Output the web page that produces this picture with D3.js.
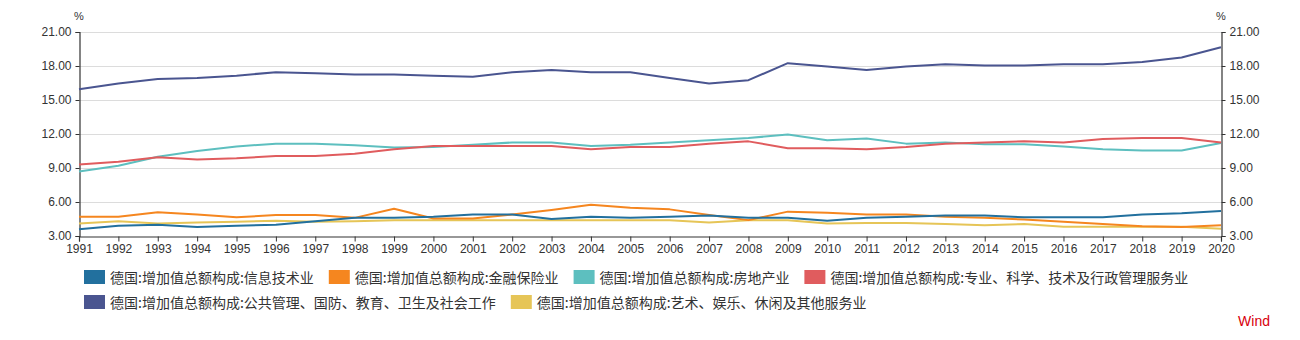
<!DOCTYPE html>
<html>
<head>
<meta charset="utf-8">
<script src="https://cdn.jsdelivr.net/npm/d3@7/dist/d3.min.js"></script>
<style>
  html, body { margin: 0; padding: 0; background: #fff; }
  svg { display: block; }
  .tick text { font-family: "Liberation Sans", Arial, sans-serif; font-size: 12px; fill: #333; }
</style>
</head>
<body>
<svg id="chart" width="1300" height="340"></svg>
<script>
// Years on the x axis
const years = [1991, 1992, 1993, 1994, 1995, 1996, 1997, 1998, 1999, 2000,
               2001, 2002, 2003, 2004, 2005, 2006, 2007, 2008, 2009, 2010,
               2011, 2012, 2013, 2014, 2015, 2016, 2017, 2018, 2019, 2020];

// Share of gross value added, %
const infoTech   = [3.6, 3.9, 4.0, 3.8, 3.9, 4.0, 4.3, 4.6, 4.6, 4.7, 4.9, 4.9, 4.5, 4.7, 4.6, 4.7, 4.8, 4.6, 4.6, 4.35, 4.6, 4.7, 4.8, 4.8, 4.65, 4.65, 4.65, 4.9, 5.0, 5.2];
const finance    = [4.7, 4.7, 5.1, 4.9, 4.65, 4.85, 4.85, 4.6, 5.4, 4.55, 4.55, 4.9, 5.3, 5.75, 5.5, 5.35, 4.85, 4.4, 5.15, 5.05, 4.9, 4.9, 4.7, 4.6, 4.45, 4.25, 4.05, 3.85, 3.8, 3.95];
const realEstate = [8.7, 9.2, 10.0, 10.5, 10.9, 11.15, 11.15, 11.0, 10.8, 10.85, 11.05, 11.25, 11.25, 10.95, 11.05, 11.25, 11.45, 11.65, 11.95, 11.45, 11.6, 11.15, 11.25, 11.1, 11.1, 10.9, 10.65, 10.55, 10.55, 11.2];
const proService = [9.3, 9.55, 9.95, 9.75, 9.85, 10.05, 10.05, 10.25, 10.65, 10.95, 10.95, 10.95, 10.95, 10.65, 10.85, 10.85, 11.15, 11.35, 10.75, 10.75, 10.65, 10.85, 11.15, 11.25, 11.35, 11.25, 11.55, 11.65, 11.65, 11.25];
const publicAdm  = [15.95, 16.45, 16.85, 16.95, 17.15, 17.45, 17.35, 17.25, 17.25, 17.15, 17.05, 17.45, 17.65, 17.45, 17.45, 16.95, 16.45, 16.75, 18.25, 17.95, 17.65, 17.95, 18.15, 18.05, 18.05, 18.15, 18.15, 18.35, 18.75, 19.65];
const artsLeisure= [4.1, 4.3, 4.1, 4.2, 4.25, 4.35, 4.25, 4.3, 4.4, 4.4, 4.4, 4.4, 4.4, 4.4, 4.4, 4.4, 4.2, 4.4, 4.4, 4.1, 4.15, 4.15, 4.05, 3.95, 4.05, 3.82, 3.82, 3.82, 3.82, 3.65];

// Y axis tick values
const yTicks = [3, 6, 9, 12, 15, 18, 21];

const seriesNames = [
  "德国:增加值总额构成:信息技术业",
  "德国:增加值总额构成:金融保险业",
  "德国:增加值总额构成:房地产业",
  "德国:增加值总额构成:专业、科学、技术及行政管理服务业",
  "德国:增加值总额构成:公共管理、国防、教育、卫生及社会工作",
  "德国:增加值总额构成:艺术、娱乐、休闲及其他服务业"
];
const seriesColors = ["#22709e", "#f5861f", "#5dbfbf", "#e05c5e", "#4a5590", "#e6c557"];
const seriesValues = [infoTech, finance, realEstate, proService, publicAdm, artsLeisure];

const svg = d3.select("#chart");
const margin = { left: 79, right: 79, top: 32, bottom: 104 };
const W = 1300, H = 340;
const plotW = W - margin.left - margin.right;
const plotH = H - margin.top - margin.bottom;

const x = d3.scaleLinear().domain([years[0], years[years.length - 1]]).range([margin.left, margin.left + plotW]);
const y = d3.scaleLinear().domain([3, 21]).range([margin.top + plotH, margin.top]);

// Horizontal gridlines
svg.append("g")
  .selectAll("line")
  .data(yTicks.slice(1))
  .join("line")
  .attr("x1", margin.left).attr("x2", margin.left + plotW)
  .attr("y1", d => Math.round(y(d)) + 0.5).attr("y2", d => Math.round(y(d)) + 0.5)
  .attr("stroke", "#dcdcdc").attr("stroke-width", 1);

// Left axis
const leftAxis = svg.append("g")
  .attr("transform", `translate(${margin.left + 0.5},0)`)
  .call(d3.axisLeft(y).tickValues(yTicks).tickFormat(d3.format(".2f")).tickSize(4).tickPadding(4));

// Right axis
const rightAxis = svg.append("g")
  .attr("transform", `translate(${margin.left + plotW + 0.5},0)`)
  .call(d3.axisRight(y).tickValues(yTicks).tickFormat(d3.format(".2f")).tickSize(4).tickPadding(4));

// Bottom axis
const bottomAxis = svg.append("g")
  .attr("transform", `translate(0,${margin.top + plotH + 0.5})`)
  .call(d3.axisBottom(x).tickValues(years).tickFormat(d3.format("d")).tickSize(5).tickPadding(3));

[leftAxis, rightAxis, bottomAxis].forEach(g => {
  g.select(".domain").attr("stroke", "#333").attr("stroke-width", 1.2);
  g.selectAll(".tick line").attr("stroke", "#333");
});

// Unit labels
svg.append("text").attr("x", margin.left).attr("y", 20)
  .attr("text-anchor", "middle")
  .style("font-family", "Liberation Sans, Arial, sans-serif").style("font-size", "11px").attr("fill", "#333")
  .text("%");
svg.append("text").attr("x", margin.left + plotW).attr("y", 20)
  .attr("text-anchor", "middle")
  .style("font-family", "Liberation Sans, Arial, sans-serif").style("font-size", "11px").attr("fill", "#333")
  .text("%");

// Series lines
const line = d3.line()
  .x((d, i) => x(years[i]))
  .y(d => y(d));

const drawOrder = [4, 2, 3, 5, 1, 0];
svg.append("g")
  .selectAll("path")
  .data(drawOrder)
  .join("path")
  .attr("d", k => line(seriesValues[k]))
  .attr("fill", "none")
  .attr("stroke", k => seriesColors[k])
  .attr("stroke-width", 2)
  .attr("stroke-linejoin", "round");

// Legend, flowing left to right and wrapping
const legend = svg.append("g");
const legendLeft = 84, legendMaxRight = 1220;
const swatchW = 21, swatchH = 14, swatchGap = 5, itemGap = 15, rowH = 25;
let lx = legendLeft, ly = 277;
seriesNames.forEach((name, i) => {
  const g = legend.append("g");
  const t = g.append("text")
    .attr("dominant-baseline", "central")
    .style("font-family", "'Noto Sans CJK SC', sans-serif")
    .style("font-size", "14px")
    .attr("fill", "#333")
    .text(name);
  const tw = t.node().getComputedTextLength();
  const itemW = swatchW + swatchGap + tw;
  if (lx + itemW > legendMaxRight && lx > legendLeft) {
    lx = legendLeft;
    ly += rowH;
  }
  g.append("rect")
    .attr("x", lx).attr("y", ly - swatchH / 2)
    .attr("width", swatchW).attr("height", swatchH)
    .attr("fill", seriesColors[i]);
  t.attr("x", lx + swatchW + swatchGap).attr("y", ly);
  lx += itemW + itemGap;
});

// Source mark
svg.append("text")
  .attr("x", 1270).attr("y", 326)
  .attr("text-anchor", "end")
  .style("font-family", "Liberation Sans, Arial, sans-serif").style("font-size", "14px")
  .attr("fill", "#d8000c")
  .text("Wind");
</script>
</body>
</html>
